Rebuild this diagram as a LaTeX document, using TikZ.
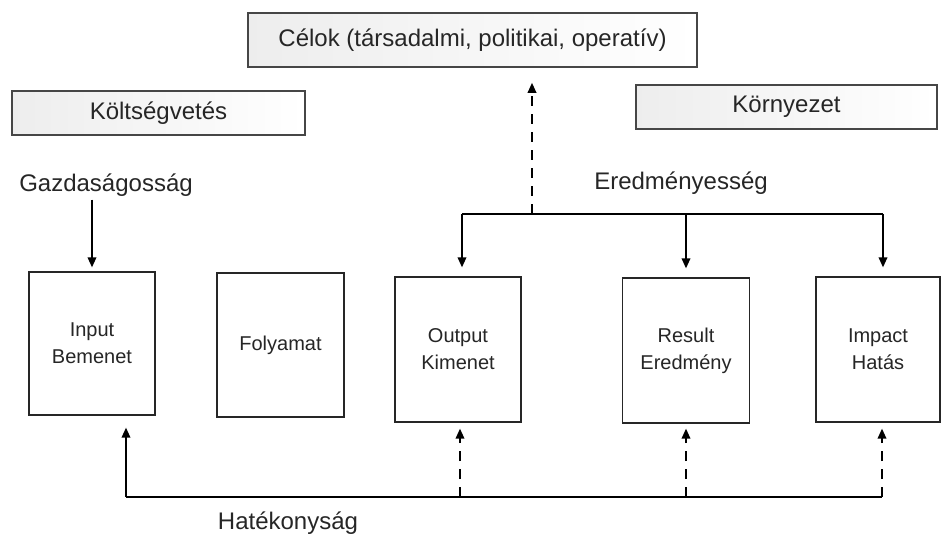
\documentclass[tikz,border=0pt]{standalone}
\usepackage{fontspec}
\setmainfont{Liberation Sans}
\usetikzlibrary{arrows.meta}
\begin{document}
\begin{tikzpicture}[x=1pt,y=-1pt,
  banner/.style={draw=gray!55!black, line width=1.6pt, left color=gray!14, middle color=white, right color=white,
    inner sep=0pt, text=black!85, font=\fontsize{24}{28}\selectfont},
  stage/.style={draw=black!85, line width=1.2pt, fill=white, inner sep=0pt, align=center,
    text=black!85, font=\fontsize{20}{27}\selectfont},
  lbl/.style={inner sep=0pt, text=black!85, font=\fontsize{24}{28}\selectfont},
  flow/.style={line width=1.8pt, -{Triangle[length=10pt,width=8.5pt]}},
  feedback/.style={flow, dash pattern=on 10pt off 8pt},
  bar/.style={line width=1.8pt},
]
\useasboundingbox (0,0) rectangle (942,537);

% headings
\node[banner, minimum width=449pt, minimum height=54pt] (celok) at (472.5,40) {Célok (társadalmi, politikai, operatív)};
\node[banner, minimum width=293pt, minimum height=44pt] (kolts) at (158.5,113) {Költségvetés};
\node[banner, minimum width=301pt, minimum height=44pt] (korny) at (786.5,107) {Környezet};

% free labels
\node[lbl] (gazd) at (106,185) {Gazdaságosság};
\node[lbl] (ered) at (681,183) {Eredményesség};
\node[lbl] (hatek) at (288,523) {Hatékonyság};

% process stages
\node[stage, minimum width=126pt, minimum height=143pt] (input) at (92,343.5) {Input\\Bemenet};
\node[stage, minimum width=127pt, minimum height=144pt] (proc) at (280.5,345) {Folyamat};
\node[stage, minimum width=126pt, minimum height=145pt] (output) at (458,349.5) {Output\\Kimenet};
\node[stage, minimum width=127pt, minimum height=145pt] (result) at (686,350.5) {Result\\Eredmény};
\node[stage, minimum width=124pt, minimum height=145pt] (impact) at (878,349.5) {Impact\\Hatás};

% economy: budget to input
\draw[flow, shorten >=4pt] (input.north |- gazd.south) ++(0,3) -- (input.north);

% effectiveness bracket
\coordinate (effL) at (462,214);
\coordinate (effR) at (883,214);
\coordinate (effUp) at (532,214);
\draw[bar] (effL) -- (effR);
\draw[flow, shorten >=9pt] (effL) -- (effL |- output.north);
\draw[flow, shorten >=9pt] (effL -| result.north) -- (result.north);
\draw[flow, shorten >=9pt] (effR) -- (effR |- impact.north);
\draw[feedback, shorten >=15pt] (effUp) -- (effUp |- celok.south);

% efficiency bracket
\coordinate (efiL) at (126,497);
\coordinate (efiR) at (882,497);
\coordinate (efiO) at (460,497);
\coordinate (efiM) at (686,497);
\draw[bar] (efiL) -- (efiR);
\draw[flow, shorten >=12pt] (efiL) -- (efiL |- input.south);
\draw[feedback, shorten >=6pt] (efiO) -- (efiO |- output.south);
\draw[feedback, shorten >=5pt] (efiM) -- (efiM |- result.south);
\draw[feedback, shorten >=6pt] (efiR) -- (efiR |- impact.south);
\end{tikzpicture}
\end{document}
